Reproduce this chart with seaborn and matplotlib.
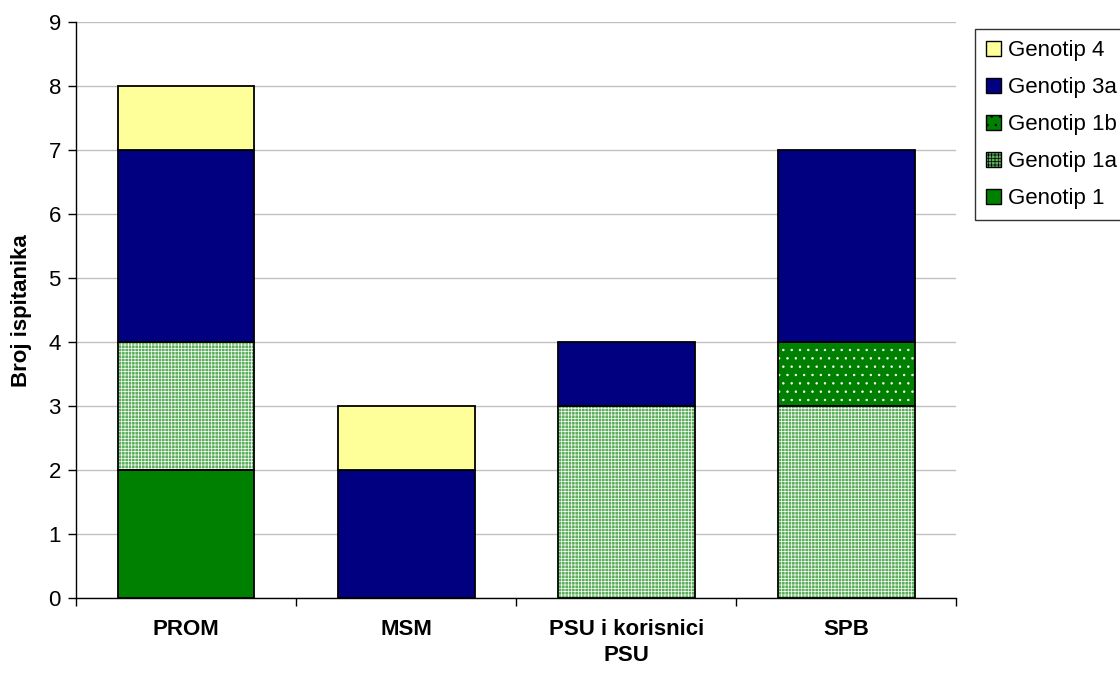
import numpy as np
import pandas as pd
import matplotlib
matplotlib.use("Agg")
import matplotlib.pyplot as plt
import seaborn as sns
from matplotlib.patches import Patch

# Podaci
categories = ["PROM", "MSM", "PSU i korisnici\nPSU", "SPB"]
genotip_1 = [2, 0, 0, 0]
genotip_1a = [2, 0, 3, 3]
genotip_1b = [0, 0, 0, 1]
genotip_3a = [3, 2, 1, 3]
genotip_4 = [1, 1, 0, 0]

layers = [
    ("Genotip 1", genotip_1, "#008000", None),
    ("Genotip 1a", genotip_1a, "#5aae5a", "+++++"),
    ("Genotip 1b", genotip_1b, "#008000", ".."),
    ("Genotip 3a", genotip_3a, "#000080", None),
    ("Genotip 4", genotip_4, "#ffff99", None),
]

sns.set_theme(style="white")
plt.rcParams["font.family"] = ["Liberation Sans", "DejaVu Sans"]
plt.rcParams["hatch.linewidth"] = 0.5
plt.rcParams["text.color"] = "black"
plt.rcParams["xtick.color"] = "black"
plt.rcParams["ytick.color"] = "black"
plt.rcParams["axes.labelcolor"] = "black"

fig = plt.figure(figsize=(11.2, 6.75), dpi=100)
ax = fig.add_axes([0.068, 0.114, 0.786, 0.853])

bottom = np.zeros(len(categories))
for name, vals, color, hatch in layers:
    vals = np.array(vals, dtype=float)
    df = pd.DataFrame({"cat": categories, "val": vals})
    n_before = len(ax.patches)
    if hatch:
        sns.barplot(data=df, x="cat", y="val", bottom=bottom, color=color,
                    saturation=1, width=0.62, edgecolor="white", linewidth=0,
                    hatch=hatch, ax=ax, zorder=2)
    sns.barplot(data=df, x="cat", y="val", bottom=bottom, color=color,
                saturation=1, width=0.62, edgecolor="black", linewidth=1.3,
                fill=not bool(hatch), ax=ax, zorder=3)
    for p in ax.patches[n_before:]:
        if p.get_height() == 0:
            p.set_visible(False)
    bottom += vals

ax.set_ylim(0, 9)
ax.set_xlim(-0.5, 3.5)
ax.set_yticks(range(0, 10))
ax.yaxis.grid(True, color="#c0c0c0", linewidth=1)
ax.set_axisbelow(True)
for s in ["top", "right"]:
    ax.spines[s].set_visible(False)
for s in ["left", "bottom"]:
    ax.spines[s].set_color("black")
    ax.spines[s].set_linewidth(1)

ax.set_xlabel("")
ax.set_ylabel("Broj ispitanika", fontsize=16, fontweight="bold", labelpad=12)
ax.tick_params(axis="y", labelsize=16, left=True, length=6, width=1, color="black", pad=5)
ax.tick_params(axis="x", which="major", length=0, labelsize=16, pad=15)
ax.set_xticks(np.arange(-0.5, 4, 1), minor=True)
ax.tick_params(axis="x", which="minor", bottom=True, length=6, width=1, color="black")
for lbl in ax.get_xticklabels():
    lbl.set_fontweight("bold")
    lbl.set_linespacing(1.3)

handles = []
for name, vals, color, hatch in reversed(layers):
    if hatch:
        h = Patch(facecolor=color, edgecolor="black", hatch=hatch, linewidth=1)
    else:
        h = Patch(facecolor=color, edgecolor="black", linewidth=1)
    handles.append(h)
labels = [l[0] for l in reversed(layers)]
leg = fig.legend(handles, labels, loc="upper left", bbox_to_anchor=(975 / 1120, 1 - 29 / 675),
                 fontsize=16, frameon=True, fancybox=False, handlelength=0.65, handleheight=0.65,
                 handletextpad=0.35, labelspacing=0.72, borderpad=0.5, borderaxespad=0)
leg.get_frame().set_edgecolor("black")
leg.get_frame().set_linewidth(1)

fig.savefig("out.png", dpi=100)
